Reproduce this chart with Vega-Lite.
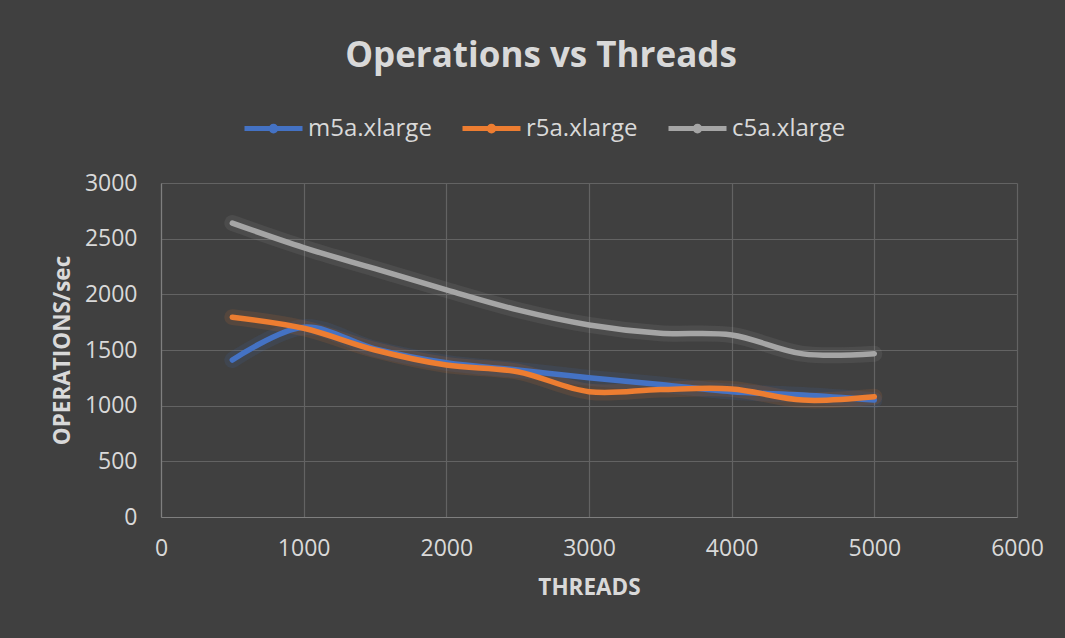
{
  "$schema": "https://vega.github.io/schema/vega-lite/v6.json",
  "autosize": {"type": "none"},
  "width": 856,
  "height": 334,
  "padding": {"left": 161, "top": 183, "right": 48, "bottom": 121},
  "background": "#404040",
  "title": {
    "text": "Operations vs Threads",
    "anchor": "middle",
    "dx": -48,
    "offset": 23,
    "font": "Open Sans",
    "fontSize": 35,
    "fontWeight": "bold",
    "color": "#D9D9D9"
  },
  "config": {
    "view": {"stroke": null},
    "font": "Open Sans",
    "axis": {
      "labelFont": "Open Sans",
      "labelFontSize": 23,
      "labelColor": "#D9D9D9",
      "titleFont": "Open Sans",
      "titleFontSize": 22.5,
      "titleFontWeight": "bold",
      "titleColor": "#D9D9D9",
      "gridColor": "#636363",
      "gridWidth": 1.2,
      "domainColor": "#7F7F7F",
      "domainWidth": 1.2,
      "ticks": false,
      "tickSize": 0,
      "format": "d"
    }
  },
  "data": {
    "values": [
      {"threads": 500, "ops": 1410, "series": "m5a.xlarge"},
      {"threads": 1000, "ops": 1705, "series": "m5a.xlarge"},
      {"threads": 1500, "ops": 1510, "series": "m5a.xlarge"},
      {"threads": 2000, "ops": 1385, "series": "m5a.xlarge"},
      {"threads": 2500, "ops": 1320, "series": "m5a.xlarge"},
      {"threads": 3000, "ops": 1250, "series": "m5a.xlarge"},
      {"threads": 3500, "ops": 1190, "series": "m5a.xlarge"},
      {"threads": 4000, "ops": 1125, "series": "m5a.xlarge"},
      {"threads": 4500, "ops": 1095, "series": "m5a.xlarge"},
      {"threads": 5000, "ops": 1050, "series": "m5a.xlarge"},
      {"threads": 500, "ops": 1795, "series": "r5a.xlarge"},
      {"threads": 1000, "ops": 1695, "series": "r5a.xlarge"},
      {"threads": 1500, "ops": 1500, "series": "r5a.xlarge"},
      {"threads": 2000, "ops": 1365, "series": "r5a.xlarge"},
      {"threads": 2500, "ops": 1305, "series": "r5a.xlarge"},
      {"threads": 3000, "ops": 1125, "series": "r5a.xlarge"},
      {"threads": 3500, "ops": 1145, "series": "r5a.xlarge"},
      {"threads": 4000, "ops": 1150, "series": "r5a.xlarge"},
      {"threads": 4500, "ops": 1050, "series": "r5a.xlarge"},
      {"threads": 5000, "ops": 1080, "series": "r5a.xlarge"},
      {"threads": 500, "ops": 2640, "series": "c5a.xlarge"},
      {"threads": 1000, "ops": 2420, "series": "c5a.xlarge"},
      {"threads": 1500, "ops": 2230, "series": "c5a.xlarge"},
      {"threads": 2000, "ops": 2040, "series": "c5a.xlarge"},
      {"threads": 2500, "ops": 1860, "series": "c5a.xlarge"},
      {"threads": 3000, "ops": 1725, "series": "c5a.xlarge"},
      {"threads": 3500, "ops": 1650, "series": "c5a.xlarge"},
      {"threads": 4000, "ops": 1635, "series": "c5a.xlarge"},
      {"threads": 4500, "ops": 1465, "series": "c5a.xlarge"},
      {"threads": 5000, "ops": 1467, "series": "c5a.xlarge"}
    ]
  },
  "encoding": {
    "x": {
      "field": "threads",
      "type": "quantitative",
      "title": "THREADS",
      "scale": {"domain": [0, 6000], "nice": false},
      "axis": {"values": [0, 1000, 2000, 3000, 4000, 5000, 6000], "labelPadding": 20, "titlePadding": 16, "labelFlush": false}
    },
    "y": {
      "field": "ops",
      "type": "quantitative",
      "title": "OPERATIONS/sec",
      "scale": {"domain": [0, 3000], "nice": false},
      "axis": {"values": [0, 500, 1000, 1500, 2000, 2500, 3000], "labelPadding": 24, "titlePadding": 10}
    },
    "color": {
      "field": "series",
      "type": "nominal",
      "scale": {"domain": ["m5a.xlarge", "r5a.xlarge", "c5a.xlarge"], "range": ["#4472C4", "#ED7D31", "#A5A5A5"]},
      "sort": ["m5a.xlarge", "r5a.xlarge", "c5a.xlarge"],
      "legend": {
        "title": null,
        "orient": "none",
        "direction": "horizontal",
        "legendX": 81,
        "legendY": -86,
        "symbolType": "M-1,0H1M-0.08,0A0.08,0.08 0 1,0 0.08,0A0.08,0.08 0 1,0 -0.08,0Z",
        "symbolSize": 3364,
        "symbolStrokeWidth": 5,
        "symbolOpacity": 1,
        "labelFont": "Open Sans",
        "labelFontSize": 24,
        "labelColor": "#D9D9D9",
        "labelOffset": 3,
        "columnPadding": 20
      }
    }
  },
  "layer": [
    {"mark": {"type": "line", "interpolate": "catmull-rom", "strokeWidth": 16, "strokeCap": "round", "opacity": 0.12}},
    {"mark": {"type": "line", "interpolate": "catmull-rom", "strokeWidth": 5.5, "strokeCap": "round"}}
  ]
}
